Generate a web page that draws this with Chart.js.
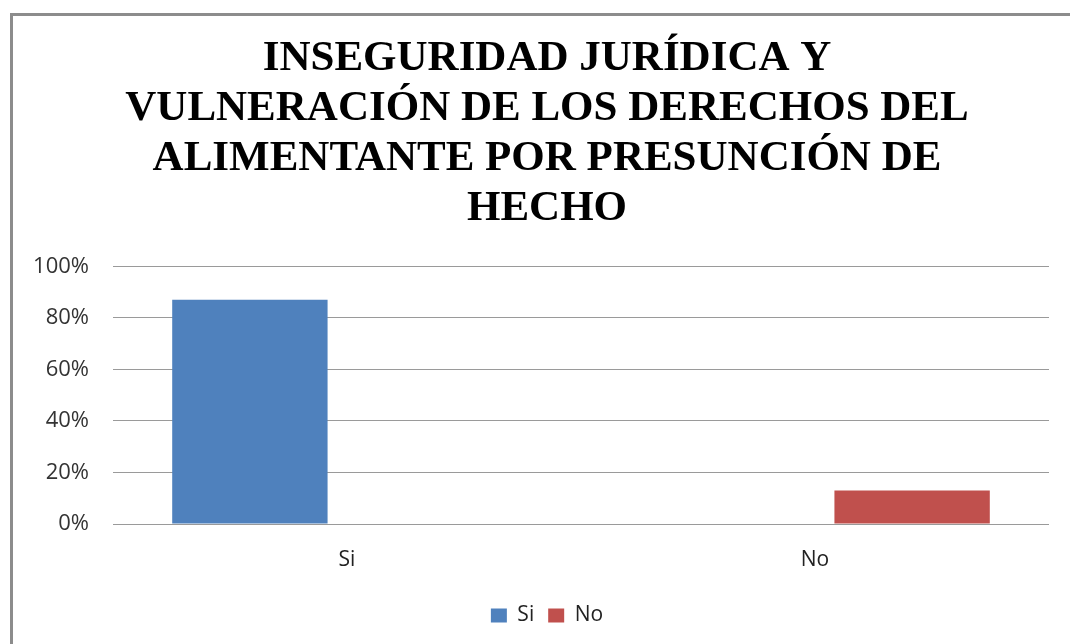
<!DOCTYPE html>
<html>
<head>
<meta charset="utf-8">
<script src="https://cdn.jsdelivr.net/npm/chart.js@4"></script>
<style>
html, body { margin: 0; padding: 0; background: #fff; overflow: hidden; }
#frame {
  position: absolute; left: 10px; top: 13px;
  width: 1080px; height: 640px;
  border-left: 3px solid #8c8c8c; border-top: 3px solid #8c8c8c;
}
#wrap { position: absolute; left: 0; top: 0; width: 1070px; height: 628px; }
</style>
</head>
<body>
<div id="frame"><div id="wrap"><canvas id="myChart"></canvas></div></div>
<script>
const titleLines = [
  'INSEGURIDAD JURÍDICA Y',
  'VULNERACIÓN DE LOS DERECHOS DEL',
  'ALIMENTANTE POR PRESUNCIÓN DE',
  'HECHO'
];
const categories = ['Si', 'No'];
const siValues = [87, null];
const noValues = [null, 13];
const yTicks = [0, 20, 40, 60, 80, 100];

const sans = 'Open Sans';

const ctx = document.getElementById('myChart').getContext('2d');
const chart = new Chart(ctx, {
  type: 'bar',
  data: {
    labels: categories,
    datasets: [{
      label: 'Si',
      data: siValues,
      backgroundColor: '#4f81bd',
      categoryPercentage: 0.83,
      barPercentage: 0.8
    }, {
      label: 'No',
      data: noValues,
      backgroundColor: '#c0504d',
      categoryPercentage: 0.83,
      barPercentage: 0.8
    }]
  },
  options: {
    responsive: true,
    maintainAspectRatio: false,
    animation: false,
    layout: { padding: { top: 18, right: 34, left: 32, bottom: 8 } },
    plugins: {
      title: {
        display: true,
        text: titleLines,
        color: '#000',
        font: { family: 'Liberation Serif', weight: 'bold', size: 43, lineHeight: 1.165 },
        padding: { top: 0, bottom: 32 }
      },
      legend: {
        position: 'bottom',
        labels: {
          color: '#222',
          font: { family: sans, size: 21 },
          boxWidth: 16,
          boxHeight: 14,
          padding: 14
        }
      },
      tooltip: { enabled: false }
    },
    scales: {
      x: {
        grid: { display: false, drawTicks: false },
        border: { display: false },
        ticks: { color: '#222', font: { family: sans, size: 21 }, padding: 23 },
        afterFit: (s) => { s.height = 67; }
      },
      y: {
        min: 0,
        max: 100,
        afterBuildTicks: (s) => { s.ticks = yTicks.map(v => ({ value: v })); },
        grid: { color: '#9a9a9a', lineWidth: 1, drawTicks: false },
        border: { display: false },
        ticks: {
          color: '#333',
          font: { family: sans, size: 22 },
          padding: 24,
          callback: (v) => v + '%'
        },
        afterFit: (s) => {
          s.width = 68;
          // labels are wider than the narrowed axis box, so do not clip them
          s._computeLabelArea = () => undefined;
        }
      }
    }
  }
});
</script>
</body>
</html>
